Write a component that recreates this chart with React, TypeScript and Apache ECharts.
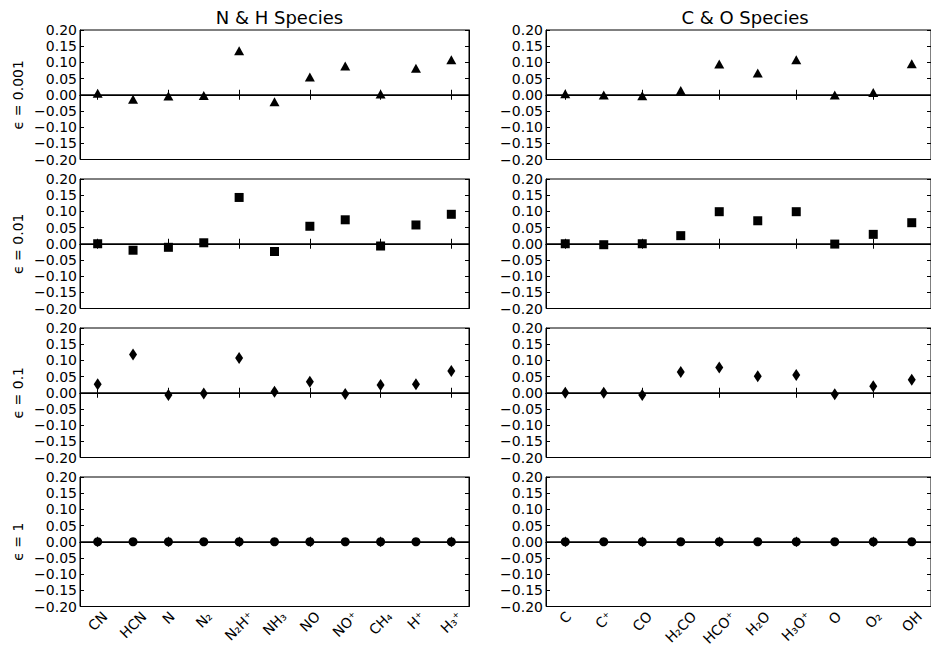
import React, { useEffect, useRef } from "react";
import * as echarts from "echarts";

const nhSpecies = ["CN", "HCN", "N", "N₂", "N₂H⁺", "NH₃", "NO", "NO⁺", "CH₄", "H⁺", "H₃⁺"];
const coSpecies = ["C", "C⁺", "CO", "H₂CO", "HCO⁺", "H₂O", "H₃O⁺", "O", "O₂", "OH"];

const rowLabels = ["ϵ = 0.001", "ϵ = 0.01", "ϵ = 0.1", "ϵ = 1"];
const columnTitles = ["N & H Species", "C & O Species"];
const yTicks = { min: -0.2, max: 0.2, step: 0.05 };

const nhEps0001 = [0.005, -0.014, -0.004, -0.002, 0.136, -0.022, 0.055, 0.089, 0.002, 0.082, 0.108];
const coEps0001 = [0.003, -0.001, -0.003, 0.013, 0.095, 0.067, 0.108, -0.001, 0.007, 0.096];
const nhEps001 = [0.0, -0.02, -0.011, 0.003, 0.143, -0.024, 0.054, 0.074, -0.007, 0.058, 0.091];
const coEps001 = [0.0, -0.003, 0.0, 0.025, 0.099, 0.071, 0.099, -0.001, 0.029, 0.065];
const nhEps01 = [0.026, 0.118, -0.007, -0.002, 0.107, 0.003, 0.034, -0.004, 0.024, 0.026, 0.067];
const coEps01 = [0.0, 0.0, -0.007, 0.064, 0.078, 0.051, 0.055, -0.005, 0.02, 0.04];
const nhEps1 = [0, 0, 0, 0, 0, 0, 0, 0, 0, 0, 0];
const coEps1 = [0, 0, 0, 0, 0, 0, 0, 0, 0, 0];

const rowsNH = [nhEps0001, nhEps001, nhEps01, nhEps1];
const rowsCO = [coEps0001, coEps001, coEps01, coEps1];

const FONT = "DejaVu Sans";
const LABEL_SIZE = 14;

export default function App() {
  const ref = useRef<HTMLDivElement>(null);
  useEffect(() => {
    if (!ref.current) return;
    const chart = echarts.init(ref.current, null, { renderer: "svg" });

    const rowTops = [30, 179, 328, 477];
    const rowH = 129.5;
    const cols = [
      { left: 80, width: 389, cats: nhSpecies, rows: rowsNH },
      { left: 546, width: 388, cats: coSpecies, rows: rowsCO },
    ];
    const symbols: any[] = [
      { symbol: "triangle", size: [10, 9] },
      { symbol: "rect", size: [9, 9] },
      { symbol: "diamond", size: [8, 12] },
      { symbol: "circle", size: 9 },
    ];

    const grids: any[] = [];
    const xAxes: any[] = [];
    const yAxes: any[] = [];
    const series: any[] = [];
    const bottomAxisIdx: { axis: number; cats: string[] }[] = [];

    const fmt = (v: number) => {
      const s = Math.abs(v).toFixed(2);
      return v < -1e-9 ? "−" + s : s;
    };

    let g = 0;
    cols.forEach((col, ci) => {
      rowTops.forEach((top, ri) => {
        grids.push({
          left: col.left,
          width: col.width,
          top,
          height: rowH,
          show: true,
          borderColor: "#000",
          borderWidth: 1,
          backgroundColor: "#fff",
          containLabel: false,
        });
        if (ri === 3) bottomAxisIdx.push({ axis: 2 * g, cats: col.cats });
        xAxes.push({
          type: "category",
          gridIndex: g,
          position: "bottom",
          data: col.cats,
          axisLine: { show: true, lineStyle: { color: "#000", width: 1 } },
          axisTick: { show: true, inside: true, length: 5, alignWithLabel: true, lineStyle: { color: "#000" } },
          axisLabel: { show: false },
          splitLine: { show: false },
        });
        xAxes.push({
          type: "category",
          gridIndex: g,
          position: "top",
          data: col.cats,
          axisLine: { show: true, lineStyle: { color: "#000", width: 1 } },
          axisTick: { show: true, inside: true, length: 5, alignWithLabel: true, lineStyle: { color: "#000" } },
          axisLabel: { show: false },
          splitLine: { show: false },
        });
        yAxes.push({
          type: "value",
          gridIndex: g,
          position: "left",
          min: yTicks.min,
          max: yTicks.max,
          interval: yTicks.step,
          name: ci === 0 ? rowLabels[ri] : "",
          nameLocation: "middle",
          nameRotate: 90,
          nameGap: 55,
          nameTextStyle: { color: "#000", fontFamily: FONT, fontSize: 14 },
          axisLine: { show: true, lineStyle: { color: "#000", width: 1 } },
          axisTick: { show: true, inside: true, length: 4, lineStyle: { color: "#000" } },
          axisLabel: {
            show: true,
            margin: 3,
            color: "#000",
            fontFamily: FONT,
            fontSize: 14,
            formatter: fmt,
          },
          splitLine: { show: false },
        });
        yAxes.push({
          type: "value",
          gridIndex: g,
          position: "right",
          min: yTicks.min,
          max: yTicks.max,
          interval: yTicks.step,
          axisLine: { show: true, lineStyle: { color: "#000", width: 1 } },
          axisTick: { show: true, inside: true, length: 4, lineStyle: { color: "#000" } },
          axisLabel: { show: false },
          splitLine: { show: false },
        });
        const sym = symbols[ri];
        series.push({
          type: "scatter",
          xAxisIndex: 2 * g,
          yAxisIndex: 2 * g,
          symbol: sym.symbol,
          symbolSize: sym.size,
          itemStyle: { color: "#000", opacity: 1 },
          data: col.rows[ri].map((v, i) => [col.cats[i], v]),
          z: 5,
          markLine: {
            silent: true,
            symbol: "none",
            label: { show: false },
            lineStyle: { color: "#000", width: 1.5, type: "solid" },
            data: [{ yAxis: 0 }],
            z: 3,
          },
        });
        g++;
      });
    });

    chart.setOption({
      animation: false,
      backgroundColor: "#fff",
      textStyle: { fontFamily: FONT },
      title: columnTitles.map((t, i) => ({
        text: t,
        left: cols[i].left + cols[i].width / 2,
        textAlign: "center",
        top: 3,
        textStyle: { color: "#000", fontFamily: FONT, fontSize: 18, fontWeight: "normal" },
      })),
      grid: grids,
      xAxis: xAxes,
      yAxis: yAxes,
      series,
    });

    // Category labels rotated 45° with their bounding box centred under the tick
    const ctx = document.createElement("canvas").getContext("2d");
    const measure = (s: string) => {
      if (!ctx) return s.length * LABEL_SIZE * 0.65;
      ctx.font = `${LABEL_SIZE}px "${FONT}"`;
      return ctx.measureText(s).width;
    };
    const axisBottom = rowTops[3] + rowH;
    const graphics: any[] = [];
    bottomAxisIdx.forEach(({ axis, cats }) => {
      cats.forEach((c) => {
        const px = chart.convertToPixel({ xAxisIndex: axis } as any, c) as unknown as number;
        const w = measure(c);
        const h = LABEL_SIZE * 0.9;
        const half = (w + h) / (2 * Math.SQRT2);
        graphics.push({
          type: "text",
          x: px,
          y: axisBottom + 3 + half,
          rotation: Math.PI / 4,
          silent: true,
          style: {
            text: c,
            fill: "#000",
            fontFamily: FONT,
            fontSize: LABEL_SIZE,
            align: "center",
            verticalAlign: "middle",
          },
        });
      });
    });
    chart.setOption({ graphic: { elements: graphics } });

    return () => chart.dispose();
  }, []);

  return (
    <div
      ref={ref}
      style={{ position: "fixed", left: 0, top: 0, width: 931, height: 658, background: "#fff" }}
    />
  );
}
